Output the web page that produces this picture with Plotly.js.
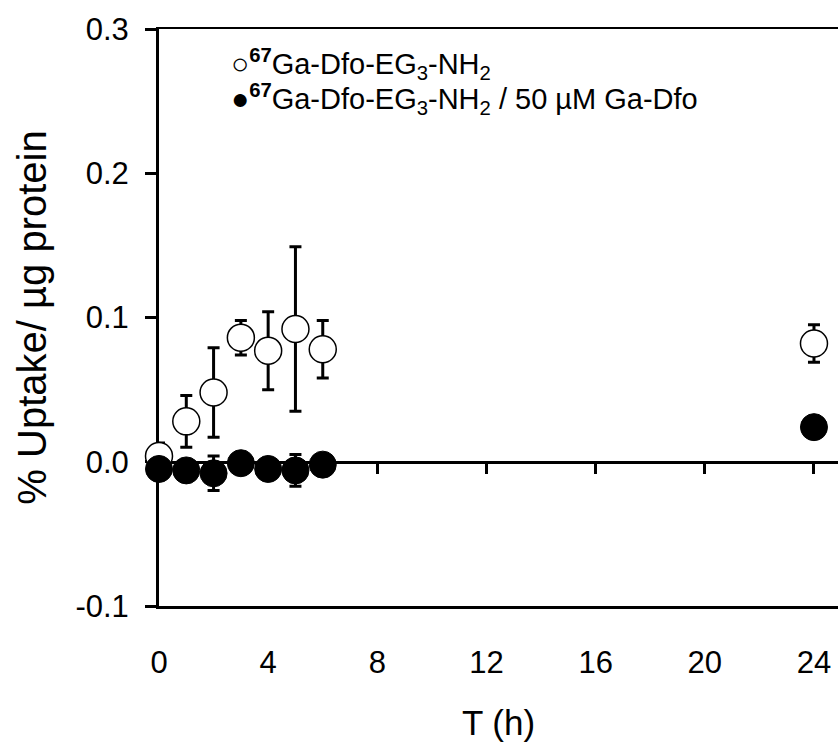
<!DOCTYPE html>
<html>
<head>
<meta charset="utf-8">
<script src="https://cdn.plot.ly/plotly-3.0.1.min.js"></script>
<style>html,body{margin:0;padding:0;background:#fff;}#chart{width:838px;height:742px;}</style>
</head>
<body>
<div id="chart"></div>
<script>
// Data
const timeHours = [0, 1, 2, 3, 4, 5, 6, 24];
const uptakeTracer = [0.004, 0.028, 0.048, 0.086, 0.077, 0.092, 0.078, 0.082];
const errorTracer = [0.009, 0.018, 0.031, 0.012, 0.027, 0.057, 0.020, 0.013];
const uptakeBlocked = [-0.005, -0.006, -0.008, -0.001, -0.005, -0.006, -0.002, 0.024];
const errorBlocked = [0.004, 0.006, 0.012, 0.003, 0.007, 0.011, 0.002, 0.003];
const seriesNames = [
  '<b><sup>67</sup></b>Ga-Dfo-EG<sub>3</sub>-NH<sub>2</sub>',
  '<b><sup>67</sup></b>Ga-Dfo-EG<sub>3</sub>-NH<sub>2</sub> / 50 µM Ga-Dfo'
];
const legendSymbols = ['○', '●'];
const xTickVals = [0, 4, 8, 12, 16, 20, 24];
const xTickText = ['0', '4', '8', '12', '16', '20', '24'];
const yTickVals = [-0.1, 0, 0.1, 0.2, 0.3];
const yTickText = ['-0.1', '0.0', '0.1', '0.2', '0.3'];

const FONT = 'Liberation Sans, Arial, sans-serif';

const traces = [
  {
    x: timeHours, y: uptakeTracer, name: seriesNames[0], showlegend: false,
    type: 'scatter', mode: 'markers', cliponaxis: false,
    marker: {symbol: 'circle', size: 27, color: '#ffffff', line: {color: '#000000', width: 1.5}},
    error_y: {type: 'data', array: errorTracer, visible: true, color: '#000000', thickness: 3, width: 6}
  },
  {
    x: timeHours, y: uptakeBlocked, name: seriesNames[1], showlegend: false,
    type: 'scatter', mode: 'markers', cliponaxis: false,
    marker: {symbol: 'circle', size: 27, color: '#000000', line: {color: '#000000', width: 1}},
    error_y: {type: 'data', array: errorBlocked, visible: true, color: '#000000', thickness: 3, width: 6}
  },
  // invisible trace to activate the zero-crossing axis
  {x: [0], y: [0], xaxis: 'x2', yaxis: 'y', mode: 'markers', marker: {opacity: 0}, showlegend: false, hoverinfo: 'skip'}
];

// legend drawn as text entries (symbol glyph + series name)
const legendY = [0.939, 0.878];
const annotations = seriesNames.map((nm, i) => ({
  xref: 'paper', yref: 'paper', x: 0.103, y: legendY[i],
  xanchor: 'left', yanchor: 'middle', showarrow: false,
  text: '<span style="font-size:30px">' + legendSymbols[i] + '</span>' + nm,
  font: {family: FONT, size: 29, color: '#000000'}
}));

const layout = {
  width: 838, height: 742,
  margin: {l: 159, r: 0, t: 29, b: 136},
  paper_bgcolor: '#ffffff', plot_bgcolor: '#ffffff',
  font: {family: FONT, color: '#000000', size: 31},
  showlegend: false,
  annotations: annotations,
  xaxis: {
    range: [0, 24.88], showgrid: false, zeroline: false,
    showline: true, linecolor: '#000000', linewidth: 2.5, mirror: true,
    ticks: '', tickvals: xTickVals, ticktext: xTickText,
    tickfont: {family: FONT, size: 31}, ticklabelstandoff: 27,
    title: {text: 'T (h)', font: {family: FONT, size: 35}, standoff: 32},
    layer: 'below traces'
  },
  xaxis2: {
    overlaying: 'x', anchor: 'free', position: 0.25, side: 'bottom',
    range: [0, 24.88], showgrid: false, zeroline: false,
    showline: true, linecolor: '#000000', linewidth: 3,
    ticks: 'outside', ticklen: 10, tickwidth: 3, tickcolor: '#000000',
    tickvals: xTickVals.slice(1), showticklabels: false,
    layer: 'below traces'
  },
  yaxis: {
    range: [-0.1, 0.3], showgrid: false, zeroline: false,
    showline: true, linecolor: '#000000', linewidth: 3,
    ticks: 'outside', ticklen: 11, tickwidth: 3, tickcolor: '#000000',
    tickvals: yTickVals, ticktext: yTickText,
    tickfont: {family: FONT, size: 31}, ticklabelstandoff: 10,
    title: {text: '% Uptake/ µg protein', font: {family: FONT, size: 40}, standoff: 17},
    layer: 'below traces'
  }
};

Plotly.newPlot('chart', traces, layout, {displayModeBar: false, staticPlot: true});
</script>
</body>
</html>
